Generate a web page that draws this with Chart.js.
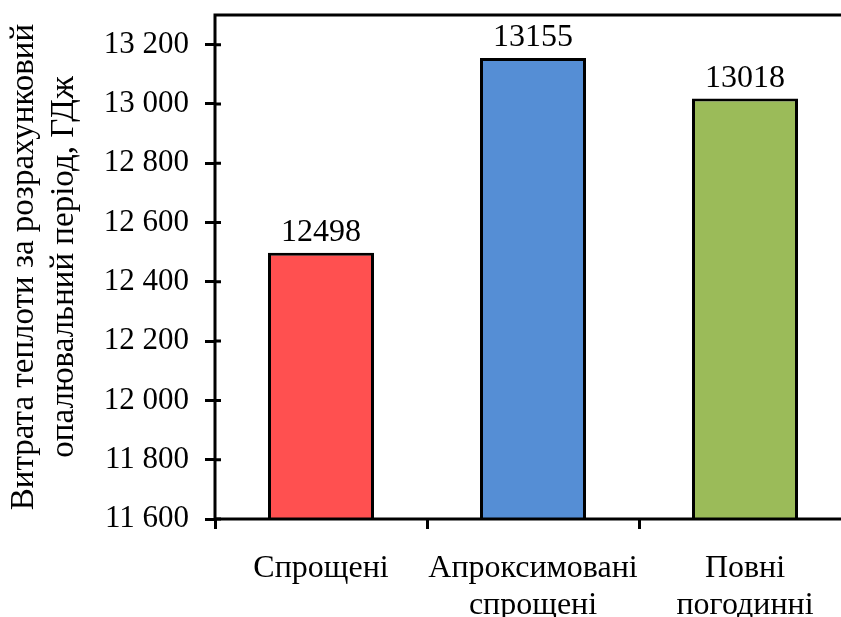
<!DOCTYPE html>
<html>
<head>
<meta charset="utf-8">
<script src="https://cdn.jsdelivr.net/npm/chart.js@4/dist/chart.umd.min.js"></script>
<style>
html,body{margin:0;padding:0;background:#fff;overflow:hidden;}
#wrap{width:841px;height:617px;overflow:hidden;position:relative;}
#c{position:absolute;left:0;top:0;}
</style>
</head>
<body>
<div id="wrap"><canvas id="c" width="862" height="617"></canvas></div>
<script>
const categories = [['Спрощені'], ['Апроксимовані', 'спрощені'], ['Повні', 'погодинні']];
const values = [12498, 13155, 13018];
const barColors = ['#FF5050', '#558ED5', '#9BBB59'];
const yTitle = ['Витрата теплоти за розрахунковий', 'опалювальний період, ГДж'];
const yTicks = [11600, 11800, 12000, 12200, 12400, 12600, 12800, 13000, 13200];
const yMin = 11600, yMax = 13300;

const FONT = "'Liberation Serif', 'Times New Roman', serif";

const framePlugin = {
  id: 'frame',
  afterDatasetsDraw(chart) {
    const {ctx, chartArea: a} = chart;
    const y = chart.scales.y;
    ctx.save();
    ctx.strokeStyle = '#000';
    ctx.lineWidth = 3;
    ctx.strokeRect(a.left, a.top, a.right - a.left, a.bottom - a.top);
    // small inner part of the crossing y ticks
    ctx.beginPath();
    y.ticks.forEach(t => {
      const py = y.getPixelForValue(t.value);
      ctx.moveTo(a.left, py);
      ctx.lineTo(a.left + 6, py);
    });
    ctx.stroke();
    ctx.restore();
  }
};

const labelPlugin = {
  id: 'vals',
  afterDatasetsDraw(chart) {
    const {ctx} = chart;
    const meta = chart.getDatasetMeta(0);
    ctx.save();
    ctx.fillStyle = '#000';
    ctx.font = "32px " + FONT;
    ctx.textAlign = 'center';
    ctx.textBaseline = 'alphabetic';
    meta.data.forEach((bar, i) => {
      ctx.fillText(String(values[i]), bar.x, bar.y - 12);
    });
    ctx.restore();
  }
};

new Chart(document.getElementById('c'), {
  type: 'bar',
  data: {
    labels: categories,
    datasets: [{
      data: values,
      backgroundColor: barColors,
      borderColor: '#000',
      borderWidth: 3,
      borderSkipped: false,
      barPercentage: 0.5,
      categoryPercentage: 1.0
    }]
  },
  options: {
    responsive: false,
    animation: false,
    devicePixelRatio: 1,
    layout: {padding: {top: 15, right: 11, left: 0, bottom: 0}},
    plugins: {legend: {display: false}, tooltip: {enabled: false}},
    scales: {
      x: {
        grid: {
          offset: true,
          drawOnChartArea: false,
          tickLength: 10,
          tickWidth: 3,
          color: '#000'
        },
        border: {display: false},
        ticks: {
          color: '#000',
          font: {family: FONT, size: 32, lineHeight: 1.15},
          padding: 21,
          maxRotation: 0,
          autoSkip: false
        },
        afterFit(s) { s.height = 98; s.paddingLeft = 0; s.paddingRight = 0; }
      },
      y: {
        min: yMin,
        max: yMax,
        afterBuildTicks(s) { s.ticks = yTicks.map(v => ({value: v})); },
        grid: {
          drawOnChartArea: false,
          tickLength: 10,
          tickWidth: 3,
          color: '#000'
        },
        border: {display: false},
        ticks: {
          color: '#000',
          font: {family: FONT, size: 31},
          padding: 16,
          callback: (v) => String(v).replace(/\B(?=(\d{3})+(?!\d))/g, ' ')
        },
        title: {
          display: true,
          text: yTitle,
          color: '#000',
          font: {family: FONT, size: 33, lineHeight: 1.22},
          padding: {top: 4, bottom: 0}
        },
        afterFit(s) { s.width = 215; s.paddingTop = 0; s.paddingBottom = 0; }
      }
    }
  },
  plugins: [framePlugin, labelPlugin]
});
</script>
</body>
</html>
